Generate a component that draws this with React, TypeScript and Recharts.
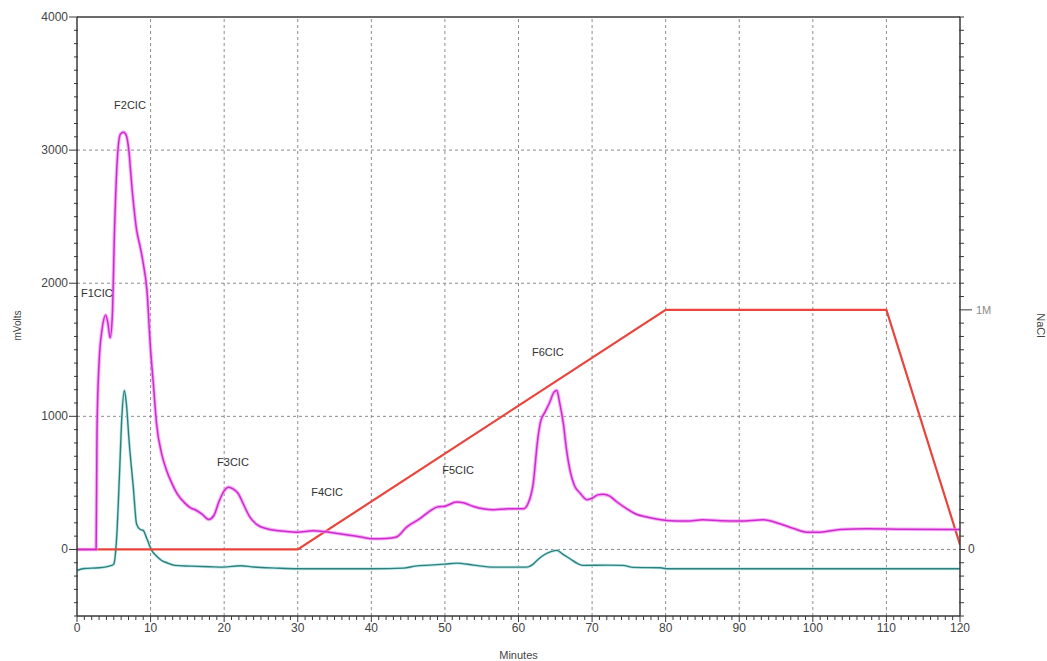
import React from 'react';
import { ComposedChart, Line, XAxis, YAxis, ReferenceLine, Scatter } from 'recharts';

// Magenta trace (mVolts vs minutes)
const magentaTrace = [
  { t: 0, v: 0 }, { t: 2.6, v: 0 }, { t: 2.72, v: 900 }, { t: 3.0, v: 1400 }, { t: 3.4, v: 1650 },
  { t: 3.9, v: 1760 }, { t: 4.2, v: 1700 }, { t: 4.5, v: 1590 }, { t: 4.8, v: 1750 }, { t: 5.1, v: 2400 },
  { t: 5.5, v: 2950 }, { t: 5.9, v: 3120 }, { t: 6.3, v: 3135 }, { t: 6.7, v: 3110 }, { t: 7.0, v: 3020 },
  { t: 7.5, v: 2700 }, { t: 8.1, v: 2400 }, { t: 8.6, v: 2270 }, { t: 9.0, v: 2150 }, { t: 9.5, v: 1950 },
  { t: 10.0, v: 1500 }, { t: 10.4, v: 1230 }, { t: 10.8, v: 950 }, { t: 11.5, v: 720 }, { t: 12.2, v: 590 },
  { t: 12.9, v: 496 }, { t: 13.6, v: 420 }, { t: 14.7, v: 346 }, { t: 15.5, v: 310 }, { t: 16.0, v: 300 },
  { t: 17.0, v: 265 }, { t: 17.9, v: 225 }, { t: 18.6, v: 255 }, { t: 19.3, v: 360 }, { t: 20.0, v: 440 },
  { t: 20.6, v: 468 }, { t: 21.2, v: 455 }, { t: 21.9, v: 420 }, { t: 22.7, v: 330 }, { t: 23.5, v: 243 },
  { t: 24.5, v: 185 }, { t: 25.8, v: 155 }, { t: 27.5, v: 140 }, { t: 29.9, v: 130 }, { t: 32.1, v: 140 },
  { t: 33.5, v: 135 }, { t: 35.7, v: 118 }, { t: 38.0, v: 100 }, { t: 40.3, v: 80 }, { t: 42.0, v: 82 },
  { t: 43.4, v: 93 }, { t: 44.8, v: 168 }, { t: 46.6, v: 231 }, { t: 48.0, v: 290 }, { t: 48.9, v: 318 },
  { t: 50.0, v: 325 }, { t: 51.6, v: 356 }, { t: 52.5, v: 350 }, { t: 53.9, v: 323 }, { t: 55.2, v: 305 },
  { t: 56.6, v: 298 }, { t: 58.5, v: 305 }, { t: 60.7, v: 306 }, { t: 61.3, v: 345 }, { t: 62.0, v: 494 },
  { t: 62.6, v: 820 }, { t: 63.0, v: 960 }, { t: 63.6, v: 1032 }, { t: 64.2, v: 1100 }, { t: 64.8, v: 1180 },
  { t: 65.2, v: 1195 }, { t: 65.6, v: 1100 }, { t: 66.1, v: 945 }, { t: 66.5, v: 760 }, { t: 67.0, v: 594 },
  { t: 67.6, v: 480 }, { t: 68.4, v: 421 }, { t: 69.3, v: 374 }, { t: 70.0, v: 385 }, { t: 70.8, v: 410 },
  { t: 71.5, v: 414 }, { t: 72.4, v: 400 }, { t: 73.3, v: 360 }, { t: 74.7, v: 306 }, { t: 75.8, v: 270 },
  { t: 77.9, v: 238 }, { t: 80.1, v: 218 }, { t: 82.8, v: 213 }, { t: 85.1, v: 223 }, { t: 87.5, v: 215 },
  { t: 90.1, v: 213 }, { t: 93.3, v: 223 }, { t: 95.5, v: 193 }, { t: 97.5, v: 155 }, { t: 99.2, v: 130 },
  { t: 101.0, v: 130 }, { t: 103.7, v: 150 }, { t: 107.3, v: 155 }, { t: 112.0, v: 152 }, { t: 119.1, v: 150 },
  { t: 120.0, v: 150 },
];

// Teal trace (mVolts vs minutes)
const tealTrace = [
  { t: 0, v: -158 }, { t: 1.0, v: -143 }, { t: 3.0, v: -138 }, { t: 4.7, v: -120 }, { t: 5.0, v: -110 },
  { t: 5.4, v: 100 }, { t: 5.8, v: 600 }, { t: 6.1, v: 1000 }, { t: 6.43, v: 1195 }, { t: 6.7, v: 1100 },
  { t: 7.1, v: 800 }, { t: 7.65, v: 468 }, { t: 8.1, v: 190 }, { t: 8.6, v: 150 }, { t: 9.0, v: 143 },
  { t: 9.5, v: 80 }, { t: 10.15, v: -7 }, { t: 10.8, v: -50 }, { t: 11.5, v: -83 }, { t: 12.2, v: -100 },
  { t: 13.3, v: -120 }, { t: 15.4, v: -125 }, { t: 18.0, v: -130 }, { t: 19.9, v: -133 }, { t: 22.2, v: -122 },
  { t: 24.0, v: -132 }, { t: 27.0, v: -140 }, { t: 29.9, v: -145 }, { t: 35.0, v: -145 }, { t: 40.3, v: -145 },
  { t: 44.4, v: -140 }, { t: 46.0, v: -125 }, { t: 47.9, v: -118 }, { t: 50.0, v: -110 }, { t: 51.6, v: -103 },
  { t: 53.9, v: -118 }, { t: 56.6, v: -133 }, { t: 61.1, v: -133 }, { t: 62.0, v: -110 }, { t: 62.5, v: -83 },
  { t: 63.5, v: -40 }, { t: 64.5, v: -15 }, { t: 65.2, v: -7 }, { t: 66.0, v: -35 }, { t: 67.0, v: -70 },
  { t: 68.0, v: -105 }, { t: 68.8, v: -120 }, { t: 72.0, v: -118 }, { t: 74.2, v: -120 }, { t: 75.6, v: -135 },
  { t: 79.3, v: -138 }, { t: 80.1, v: -145 }, { t: 120.0, v: -145 },
];

// NaCl gradient (M vs minutes)
const naclGradient = [
  { t: 0, m: 0 }, { t: 30, m: 0 }, { t: 80, m: 1 }, { t: 110, m: 1 }, { t: 120, m: 0.02 },
];

// Peak annotations
const peakLabels = [
  { t: 2.7, v: 1925, name: 'F1CIC' },
  { t: 7.2, v: 3338, name: 'F2CIC' },
  { t: 21.2, v: 654, name: 'F3CIC' },
  { t: 34.0, v: 429, name: 'F4CIC' },
  { t: 51.8, v: 594, name: 'F5CIC' },
  { t: 64.0, v: 1481, name: 'F6CIC' },
];

const xMajorTicks = [0, 10, 20, 30, 40, 50, 60, 70, 80, 90, 100, 110, 120];
const yMajorTicks = [0, 1000, 2000, 3000, 4000];
const xGridLines = [10, 20, 30, 40, 50, 60, 70, 80, 90, 100, 110];
const yGridLines = [0, 1000, 2000, 3000];
const MV_PER_M = 1800;
const Y_MIN = -500;
const Y_MAX = 4000;

const xTicks: number[] = [];
for (let i = 0; i <= 120; i++) xTicks.push(i);
const yTicks: number[] = [];
for (let v = Y_MIN; v <= Y_MAX; v += 100) yTicks.push(v);
const rightTicks = yTicks.map((v) => v / MV_PER_M);

const FONT = '"Liberation Sans", Arial, sans-serif';
const AXIS = '#3a3a3a';
const TXT = '#444';

const XTick = (props: any) => {
  const { x, y, payload } = props;
  const v = payload.value;
  const major = xMajorTicks.includes(v);
  return (
    <g>
      <line x1={x} x2={x} y1={y} y2={y + (major ? 6 : 4)} stroke={AXIS} strokeWidth={1} />
      {major && (
        <text x={x} y={y + 16} textAnchor="middle" fontSize={12} fill={TXT} fontFamily={FONT}>{v}</text>
      )}
    </g>
  );
};

const LeftTick = (props: any) => {
  const { x, y, payload } = props;
  const v = payload.value;
  const major = yMajorTicks.includes(v);
  return (
    <g>
      <line x1={x - (major ? 8 : 3)} x2={x + 1} y1={y} y2={y} stroke={AXIS} strokeWidth={1} />
      {major && (
        <text x={x - 9} y={y + 4} textAnchor="end" fontSize={12} fill={TXT} fontFamily={FONT}>{v}</text>
      )}
    </g>
  );
};

const RightTick = (props: any) => {
  const { x, y, payload } = props;
  const v = payload.value;
  const isOne = Math.abs(v - 1) < 1e-9;
  const isZero = Math.abs(v) < 1e-9;
  return (
    <g>
      <line x1={x - 1} x2={x + (isOne ? 12 : isZero ? 5 : 4)} y1={y} y2={y} stroke={AXIS} strokeWidth={1} />
      {isOne && (
        <text x={x + 16} y={y + 4} textAnchor="start" fontSize={11} fill="#8a8a8a" fontFamily={FONT}>1M</text>
      )}
      {isZero && (
        <text x={x + 8} y={y + 4} textAnchor="start" fontSize={12} fill={TXT} fontFamily={FONT}>0</text>
      )}
    </g>
  );
};

const PeakText = (props: any) => {
  const { cx, cy, payload } = props;
  return (
    <text x={cx} y={cy + 4} textAnchor="middle" fontSize={11} fill="#333" fontFamily={FONT}>
      {payload.name}
    </text>
  );
};

export default function App() {
  return (
    <div style={{ position: 'absolute', left: 0, top: 0, background: '#fff' }}>
      <ComposedChart width={1047} height={661} margin={{ top: 17, right: 0, bottom: 0, left: 0 }}>
        <XAxis
          dataKey="t"
          type="number"
          domain={[0, 120]}
          ticks={xTicks}
          interval={0}
          tickSize={0}
          tickMargin={0}
          tickLine={false}
          tick={<XTick />}
          height={45}
          axisLine={{ stroke: AXIS, strokeWidth: 1.5 }}
          allowDataOverflow
          label={{ value: 'Minutes', position: 'insideBottom', offset: 2, fontSize: 11, fill: TXT, fontFamily: FONT }}
        />
        <YAxis
          yAxisId="left"
          type="number"
          domain={[Y_MIN, Y_MAX]}
          ticks={yTicks}
          interval={0}
          tickSize={0}
          tickMargin={0}
          tickLine={false}
          tick={<LeftTick />}
          width={77}
          axisLine={{ stroke: AXIS, strokeWidth: 1.5 }}
          allowDataOverflow
          label={{
            content: (p: any) => {
              const vb = p.viewBox || { x: 0, y: 17, width: 77, height: 599 };
              const cx = vb.x + 18;
              const cy = vb.y + vb.height / 2 + 9;
              return (
                <text x={cx} y={cy} transform={`rotate(-90 ${cx} ${cy})`} textAnchor="middle" dominantBaseline="middle" fontSize={10} fill={TXT} fontFamily={FONT}>
                  mVolts
                </text>
              );
            },
          }}
        />
        <YAxis
          yAxisId="right"
          orientation="right"
          type="number"
          domain={[Y_MIN / MV_PER_M, Y_MAX / MV_PER_M]}
          ticks={rightTicks}
          interval={0}
          tickSize={0}
          tickMargin={0}
          tickLine={false}
          tick={<RightTick />}
          width={87}
          axisLine={{ stroke: AXIS, strokeWidth: 1.5 }}
          allowDataOverflow
          label={{
            content: (p: any) => {
              const vb = p.viewBox || { x: 960, y: 17, width: 87, height: 599 };
              const cx = vb.x + 80;
              const cy = vb.y + vb.height / 2 + 9;
              return (
                <text x={cx} y={cy} transform={`rotate(90 ${cx} ${cy})`} textAnchor="middle" dominantBaseline="middle" fontSize={11} fill={TXT} fontFamily={FONT}>
                  NaCl
                </text>
              );
            },
          }}
        />
        {xGridLines.map((g) => (
          <ReferenceLine key={'gx' + g} x={g} yAxisId="left" stroke="#8c8c8c" strokeDasharray="3 3" strokeWidth={1} />
        ))}
        {yGridLines.map((g) => (
          <ReferenceLine key={'gy' + g} y={g} yAxisId="left" stroke="#8c8c8c" strokeDasharray="3 3" strokeWidth={1} />
        ))}
        <ReferenceLine y={Y_MAX} yAxisId="left" stroke={AXIS} strokeWidth={1.5} />

        <Line yAxisId="left" data={tealTrace} dataKey="v" type="monotone" stroke="#bfeaea" strokeWidth={3} dot={false} isAnimationActive={false} />
        <Line yAxisId="left" data={tealTrace} dataKey="v" type="monotone" stroke="#2f7f7f" strokeWidth={1.4} dot={false} isAnimationActive={false} />
        <Line yAxisId="right" data={naclGradient} dataKey="m" type="linear" stroke="#e8453c" strokeWidth={2.2} dot={false} isAnimationActive={false} />
        <Line yAxisId="left" data={magentaTrace} dataKey="v" type="monotone" stroke="#f58cf5" strokeWidth={3.6} strokeOpacity={0.7} dot={false} isAnimationActive={false} />
        <Line yAxisId="left" data={magentaTrace} dataKey="v" type="monotone" stroke="#cc2ccc" strokeWidth={1.5} dot={false} isAnimationActive={false} />
        <Scatter yAxisId="left" data={peakLabels} dataKey="v" shape={<PeakText />} isAnimationActive={false} />
      </ComposedChart>
    </div>
  );
}
